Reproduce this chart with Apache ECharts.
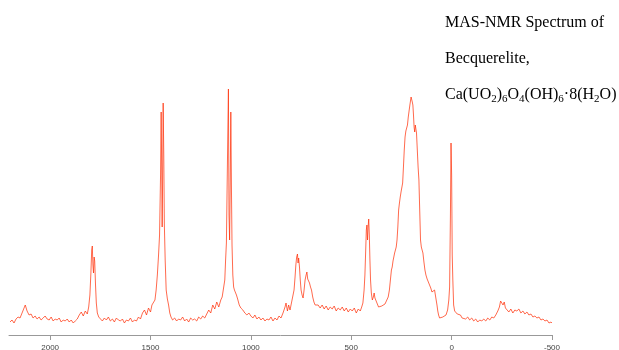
<!DOCTYPE html>
<html>
<head>
<meta charset="utf-8">
<script src="https://cdn.jsdelivr.net/npm/echarts@6/dist/echarts.min.js"></script>
<style>
  html, body { margin: 0; padding: 0; background: #fff; }
  #chart { width: 619px; height: 350px; }
</style>
</head>
<body>
<div id="chart"></div>
<script>
// chemical shift (ppm)
const shift = [
  2200, 2190, 2180, 2170, 2160, 2150, 2140, 2130, 2124, 2115, 2105, 2095, 2085, 2075, 2065, 2055, 2045, 2035, 2025, 2015,
  2005, 1995, 1985, 1975, 1965, 1955, 1945, 1935, 1925, 1915, 1905, 1895, 1885, 1875, 1865, 1855, 1845, 1835, 1825, 1815,
  1808, 1802, 1797, 1793, 1790, 1787, 1784, 1781, 1778, 1774, 1770, 1765, 1758, 1750, 1740, 1730, 1720, 1710, 1700, 1690,
  1680, 1670, 1660, 1650, 1640, 1630, 1620, 1610, 1600, 1590, 1580, 1570, 1560, 1550, 1540, 1530, 1520, 1510, 1500, 1493,
  1485, 1478, 1472, 1466, 1460, 1455, 1450, 1447, 1444, 1442, 1440, 1437, 1434, 1431, 1427, 1422, 1416, 1410, 1404, 1398,
  1390, 1380, 1370, 1360, 1350, 1340, 1330, 1320, 1310, 1300, 1290, 1280, 1270, 1260, 1250, 1240, 1230, 1220, 1210, 1200,
  1190, 1180, 1170, 1160, 1150, 1143, 1136, 1130, 1126, 1122, 1118, 1115, 1112, 1109, 1106, 1103, 1100, 1097, 1094, 1090,
  1086, 1082, 1077, 1072, 1066, 1058, 1050, 1040, 1030, 1020, 1010, 1000, 990, 980, 970, 960, 950, 940, 930, 920,
  910, 900, 890, 880, 870, 860, 850, 840, 830, 825, 818, 812, 805, 800, 795, 790, 785, 780, 776, 772,
  768, 765, 762, 758, 754, 750, 745, 740, 735, 730, 725, 721, 717, 713, 708, 703, 698, 692, 686, 680,
  672, 665, 655, 645, 635, 625, 615, 605, 595, 585, 575, 565, 555, 545, 535, 525, 515, 505, 495, 485,
  475, 465, 455, 448, 442, 436, 432, 428, 425, 422, 419, 416, 413, 410, 407, 404, 400, 395, 390, 386,
  382, 376, 370, 364, 356, 348, 340, 332, 324, 316, 310, 305, 300, 296, 292, 288, 284, 280, 276, 272,
  268, 264, 260, 256, 252, 248, 244, 240, 236, 232, 228, 224, 220, 216, 212, 208, 205, 202, 199, 196,
  193, 190, 187, 184, 181, 178, 175, 171, 167, 163, 159, 155, 151, 147, 143, 138, 133, 128, 122, 116,
  110, 104, 98, 93, 89, 85, 81, 77, 73, 69, 65, 60, 52, 44, 36, 28, 20, 14, 10, 6,
  3, 0, -3, -6, -10, -15, -20, -28, -36, -44, -52, -60, -70, -80, -90, -100, -110, -120, -130, -140,
  -150, -160, -170, -180, -190, -200, -210, -220, -230, -238, -244, -250, -256, -262, -268, -275, -285, -295, -305, -315,
  -325, -335, -345, -355, -365, -375, -385, -395, -405, -415, -425, -435, -445, -455, -465, -475, -485, -495, -500
];
// intensity (arbitrary units)
const intensity = [
  13, 15, 12, 16, 18, 17, 22, 27, 30, 24, 20, 21, 17, 19, 16, 18, 15, 17, 19, 16,
  15, 18, 14, 16, 15, 17, 13, 15, 14, 16, 13, 15, 12, 14, 16, 20, 23, 19, 24, 21,
  28, 40, 62, 85, 89, 70, 62, 78, 74, 50, 32, 22, 18, 20, 14, 17, 15, 18, 14, 16,
  13, 17, 15, 14, 16, 12, 15, 14, 17, 13, 15, 14, 18, 16, 22, 25, 20, 27, 23, 30,
  30, 35, 45, 60, 80, 100, 160, 223, 160, 108, 150, 232, 180, 110, 75, 45, 36, 30, 22, 18,
  15, 17, 14, 16, 15, 18, 14, 16, 13, 17, 15, 16, 14, 18, 16, 19, 17, 21, 25, 22,
  30, 26, 33, 28, 35, 38, 40, 55, 75, 92, 94, 200, 246, 120, 95, 150, 223, 150, 90, 60,
  48, 45, 44, 40, 36, 30, 27, 25, 22, 20, 22, 19, 17, 20, 16, 18, 15, 17, 14, 16,
  15, 18, 14, 17, 15, 19, 17, 22, 28, 32, 24, 30, 25, 30, 35, 35, 45, 58, 70, 78,
  81, 72, 77, 68, 55, 45, 40, 37, 45, 55, 60, 63, 56, 58, 52, 48, 45, 38, 33, 30,
  28, 30, 27, 30, 26, 29, 25, 28, 26, 29, 24, 27, 25, 28, 24, 27, 23, 26, 24, 27,
  22, 26, 24, 28, 32, 45, 60, 85, 105, 110, 95, 108, 116, 100, 75, 55, 42, 35, 38, 42,
  37, 35, 31, 28, 27, 29, 30, 31, 33, 38, 45, 55, 65, 68, 74, 78, 82, 85, 88, 95,
  108, 125, 132, 138, 143, 145, 152, 168, 185, 198, 204, 207, 210, 218, 224, 230, 234, 238, 240, 233,
  230, 220, 208, 203, 210, 212, 202, 185, 168, 155, 125, 95, 88, 85, 82, 73, 65, 60, 56, 53,
  51, 47, 43, 41, 42, 45, 40, 38, 30, 24, 20, 17, 16, 18, 17, 20, 25, 35, 48, 120,
  192, 160, 80, 55, 30, 24, 22, 21, 19, 20, 17, 18, 16, 18, 15, 17, 14, 16, 13, 15,
  14, 16, 14, 17, 15, 18, 17, 20, 24, 28, 34, 35, 30, 33, 27, 25, 23, 26, 22, 25,
  24, 26, 22, 24, 21, 23, 20, 21, 18, 19, 17, 18, 15, 16, 14, 15, 12, 13, 12
];
const tickValues = [2000, 1500, 1000, 500, 0, -500];

const chart = echarts.init(document.getElementById('chart'));
const serif = '"Liberation Serif", "DejaVu Serif", serif';
const txt = { fontSize: 16, fontFamily: serif, color: '#000', lineHeight: 20 };
const sub = { fontSize: 11, fontFamily: serif, color: '#000', lineHeight: 11, verticalAlign: 'bottom' };

chart.setOption({
  animation: false,
  grid: { left: 9, right: 67, top: 85, bottom: 15, outerBoundsMode: 'none' },
  xAxis: {
    type: 'value',
    inverse: true,
    min: -500,
    max: 2205,
    axisLine: { lineStyle: { color: '#999', width: 1 } },
    axisTick: { length: 5, lineStyle: { color: '#999' }, customValues: tickValues },
    axisLabel: { fontSize: 8, color: '#444', margin: 9, customValues: tickValues, formatter: v => String(v) },
    splitLine: { show: false }
  },
  yAxis: { type: 'value', min: 0, max: 250, show: false },
  series: [{
    type: 'line',
    data: shift.map((x, i) => [x, intensity[i]]),
    showSymbol: false,
    lineStyle: { color: '#ff2a00', width: 0.7 }
  }],
  graphic: [
    { type: 'text', left: 445, top: 15, style: { text: 'MAS-NMR Spectrum of', font: '16px ' + serif, fill: '#000' } },
    { type: 'text', left: 445, top: 51, style: { text: 'Becquerelite,', font: '16px ' + serif, fill: '#000' } },
    { type: 'text', left: 445, top: 87, style: {
      text: '{t|Ca(UO}{s|2}{t|)}{s|6}{t|O}{s|4}{t|(OH)}{s|6}{t|·8(H}{s|2}{t|O)}',
      rich: { t: txt, s: sub }
    } }
  ]
});
</script>
</body>
</html>
